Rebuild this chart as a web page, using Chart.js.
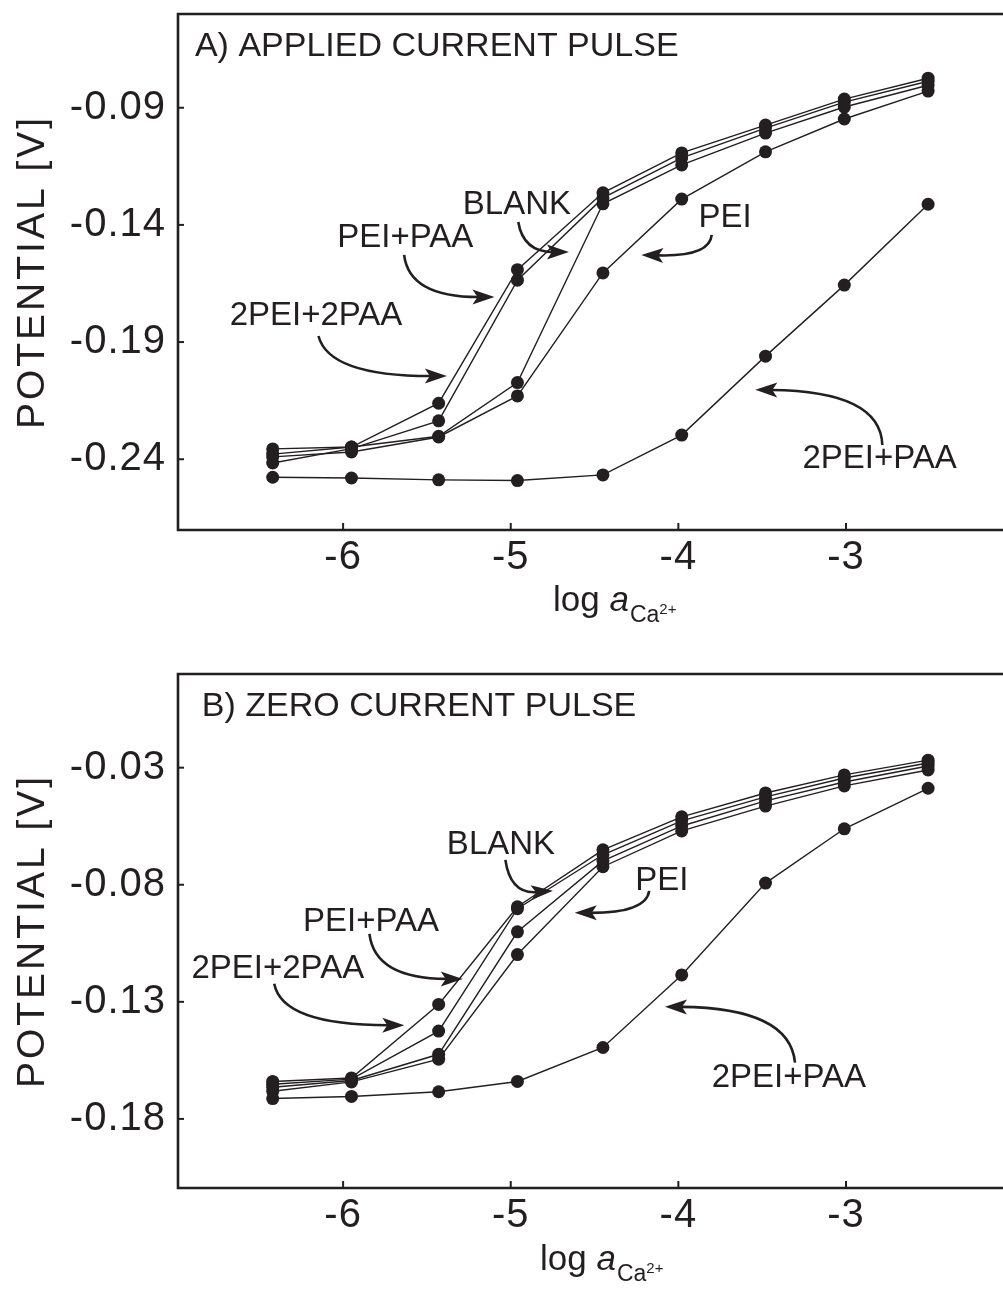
<!DOCTYPE html>
<html>
<head>
<meta charset="utf-8">
<script src="https://cdn.jsdelivr.net/npm/chart.js@4"></script>
<style>
  html, body { margin: 0; padding: 0; background: #fff; overflow: hidden; }
  canvas { position: absolute; left: 0; }
  #chartA { top: 0; }
  #chartB { top: 645px; }
</style>
</head>
<body>
<canvas id="chartA" width="1003" height="645"></canvas>
<canvas id="chartB" width="1003" height="645"></canvas>
<script>
// x positions: log a(Ca2+)
const logA = [-6.42, -5.95, -5.43, -4.96, -4.45, -3.98, -3.48, -3.01, -2.51];
const xTicks = [-6, -5, -4, -3];
const yTicksA = [-0.24, -0.19, -0.14, -0.09];
const yTicksB = [-0.18, -0.13, -0.08, -0.03];
const seriesNames = ['2PEI+2PAA', 'PEI+PAA', 'BLANK', 'PEI', '2PEI+PAA'];

// A) applied current pulse, potential [V]
const applied2PEI2PAA = [-0.2378, -0.2348, -0.2161, -0.1591, -0.1263, -0.1093, -0.0974, -0.0863, -0.0774];
const appliedPEIPAA   = [-0.2416, -0.2355, -0.2236, -0.1636, -0.1285, -0.1114, -0.0987, -0.0876, -0.0787];
const appliedBlank    = [-0.2356, -0.2348, -0.2302, -0.2073, -0.1310, -0.1144, -0.1008, -0.0897, -0.0804];
const appliedPEI      = [-0.2390, -0.2369, -0.2305, -0.2130, -0.1605, -0.1290, -0.1088, -0.0948, -0.0829];
const applied2PEIPAA  = [-0.2477, -0.2480, -0.2488, -0.2491, -0.2467, -0.2297, -0.1960, -0.1657, -0.1312];

// B) zero current pulse, potential [V]
const zero2PEI2PAA = [-0.1640, -0.1625, -0.1311, -0.0894, -0.0651, -0.0510, -0.0408, -0.0331, -0.0268];
const zeroPEIPAA   = [-0.1652, -0.1630, -0.1425, -0.0902, -0.0672, -0.0527, -0.0425, -0.0344, -0.0280];
const zeroBlank    = [-0.1665, -0.1636, -0.1524, -0.1001, -0.0698, -0.0549, -0.0442, -0.0361, -0.0293];
const zeroPEI      = [-0.1682, -0.1642, -0.1545, -0.1098, -0.0723, -0.0570, -0.0464, -0.0378, -0.0310];
const zero2PEIPAA  = [-0.1713, -0.1704, -0.1684, -0.1640, -0.1495, -0.1185, -0.0793, -0.0561, -0.0388];

const ink = '#231f20';
const FONT = '"Liberation Sans", Arial, Helvetica, sans-serif';

// text labels and curved arrows, placed in data units
const decorA = {
  title: 'A) APPLIED CURRENT PULSE', titleAt: [-6.884, -0.0641],
  labels: [
    ['BLANK', -5.286, -0.1315], ['PEI+PAA', -6.035, -0.1455], ['PEI', -3.880, -0.1372],
    ['2PEI+2PAA', -6.677, -0.1790], ['2PEI+PAA', -3.260, -0.2400]
  ],
  arrows: [
    [[-4.955, -0.1388], [-4.925, -0.1516], [-4.653, -0.1516]],
    [[-5.636, -0.1528], [-5.606, -0.1708], [-5.097, -0.1708]],
    [[-3.801, -0.1443], [-3.813, -0.1537], [-4.221, -0.1528]],
    [[-6.147, -0.1874], [-6.085, -0.2045], [-5.381, -0.2045]],
    [[-2.783, -0.2339], [-2.795, -0.2109], [-3.541, -0.2104]]
  ],
  xTitleLeft: 553, xTitleBase: 81
};
const decorB = {
  title: 'B) ZERO CURRENT PULSE', titleAt: [-6.843, -0.0039],
  labels: [
    ['BLANK', -5.381, -0.0630], ['PEI', -4.257, -0.0782], ['PEI+PAA', -6.239, -0.0959],
    ['2PEI+2PAA', -6.905, -0.1159], ['2PEI+PAA', -3.801, -0.1624]
  ],
  arrows: [
    [[-5.032, -0.0694], [-5.002, -0.0841], [-4.748, -0.0826]],
    [[-4.174, -0.0826], [-4.192, -0.0920], [-4.618, -0.0920]],
    [[-5.843, -0.1010], [-5.810, -0.1202], [-5.286, -0.1202]],
    [[-6.411, -0.1223], [-6.363, -0.1400], [-5.635, -0.1400]],
    [[-3.304, -0.1560], [-3.334, -0.1326], [-4.080, -0.1321]]
  ],
  xTitleLeft: 540, xTitleBase: 82
};

function drawArrow(ctx, p0, c, p1) {
  const ang = Math.atan2(p1.y - c.y, p1.x - c.x);
  const len = 22, half = 7.5;
  const bx = p1.x - len * Math.cos(ang), by = p1.y - len * Math.sin(ang);
  ctx.beginPath();
  ctx.moveTo(p0.x, p0.y);
  ctx.quadraticCurveTo(c.x, c.y, bx + 6 * Math.cos(ang), by + 6 * Math.sin(ang));
  ctx.stroke();
  ctx.beginPath();
  ctx.moveTo(p1.x, p1.y);
  ctx.lineTo(bx - half * Math.sin(ang), by + half * Math.cos(ang));
  ctx.lineTo(bx + 5 * Math.cos(ang), by + 5 * Math.sin(ang));
  ctx.lineTo(bx + half * Math.sin(ang), by - half * Math.cos(ang));
  ctx.closePath();
  ctx.fill();
}

const decorPlugin = {
  id: 'decor',
  beforeDraw(chart) {
    // slightly looser tracking for the tick labels, as in the original
    chart.ctx.letterSpacing = '1px';
  },
  afterDraw(chart, args, opts) {
    const { ctx, chartArea: a, scales: { x, y } } = chart;
    const px = v => x.getPixelForValue(v), py = v => y.getPixelForValue(v);
    ctx.save();
    ctx.letterSpacing = '0px';
    ctx.strokeStyle = ink; ctx.fillStyle = ink;

    // frame: top, left, bottom (right side is cut off)
    ctx.lineWidth = 2.6;
    ctx.beginPath();
    ctx.moveTo(chart.width + 5, a.top); ctx.lineTo(a.left, a.top);
    ctx.lineTo(a.left, a.bottom); ctx.lineTo(chart.width + 5, a.bottom);
    ctx.stroke();

    // inward tick marks
    ctx.lineWidth = 2;
    x.ticks.forEach(t => {
      const X = px(t.value);
      ctx.beginPath(); ctx.moveTo(X, a.bottom); ctx.lineTo(X, a.bottom - 7); ctx.stroke();
    });
    y.ticks.forEach(t => {
      const Y = py(t.value);
      ctx.beginPath(); ctx.moveTo(a.left, Y); ctx.lineTo(a.left + 6, Y); ctx.stroke();
    });

    // y axis title
    ctx.save();
    ctx.translate(33, (a.top + a.bottom) / 2);
    ctx.rotate(-Math.PI / 2);
    ctx.font = '39px ' + FONT;
    ctx.textAlign = 'center'; ctx.textBaseline = 'middle';
    ctx.letterSpacing = '3px';
    ctx.fillText('POTENTIAL [V]', 0, 0);
    ctx.restore();

    // x axis title: log a_Ca2+
    let tx = opts.xTitleLeft;
    const base = a.bottom + opts.xTitleBase;
    ctx.textAlign = 'left'; ctx.textBaseline = 'alphabetic';
    ctx.font = '35px ' + FONT;
    ctx.fillText('log ', tx, base); tx += ctx.measureText('log ').width;
    ctx.font = 'italic 35px ' + FONT;
    ctx.fillText('a', tx, base); tx += ctx.measureText('a').width + 1;
    ctx.font = '23px ' + FONT;
    ctx.fillText('Ca', tx, base + 11); tx += ctx.measureText('Ca').width;
    ctx.font = '15px ' + FONT;
    ctx.fillText('2+', tx, base + 3);

    // panel title and curve labels
    ctx.textBaseline = 'middle';
    ctx.font = '34px ' + FONT;
    ctx.fillText(opts.title, px(opts.titleAt[0]), py(opts.titleAt[1]));
    ctx.font = '33px ' + FONT;
    opts.labels.forEach(([txt, lx, ly]) => ctx.fillText(txt, px(lx), py(ly)));

    // arrows
    ctx.lineWidth = 2.6;
    opts.arrows.forEach(([s, c, e]) => {
      drawArrow(ctx, { x: px(s[0]), y: py(s[1]) }, { x: px(c[0]), y: py(c[1]) }, { x: px(e[0]), y: py(e[1]) });
    });
    ctx.restore();
  }
};

function makeChart(id, seriesList, yMin, yMax, yTicks, padTop, xAxisHeight, decor) {
  new Chart(document.getElementById(id), {
    type: 'line',
    data: {
      datasets: seriesList.map((vals, i) => ({
        label: seriesNames[i],
        data: logA.map((v, j) => ({ x: v, y: vals[j] })),
        borderColor: ink,
        borderWidth: 1.4,
        pointRadius: 6.5,
        pointBackgroundColor: ink,
        pointBorderWidth: 0,
        tension: 0,
        clip: false
      }))
    },
    options: {
      responsive: false,
      animation: false,
      layout: { padding: { top: padTop, left: 0, right: 0, bottom: 0 } },
      plugins: { legend: { display: false }, tooltip: { enabled: false }, decor },
      scales: {
        x: {
          type: 'linear', min: -6.985, max: -2.102,
          afterFit: s => { s.height = xAxisHeight; s.paddingLeft = 0; s.paddingRight = 0; },
          afterBuildTicks: s => { s.ticks = xTicks.map(v => ({ value: v })); },
          grid: { display: false, drawTicks: false },
          border: { display: false },
          ticks: { color: ink, padding: 4, font: { family: FONT, size: 40 }, callback: v => String(v), maxRotation: 0 }
        },
        y: {
          type: 'linear', min: yMin, max: yMax,
          afterFit: s => { s.width = 178; s.paddingTop = 0; s.paddingBottom = 0; },
          afterBuildTicks: s => { s.ticks = yTicks.map(v => ({ value: v })); },
          grid: { display: false, drawTicks: false },
          border: { display: false },
          ticks: { color: ink, padding: 12, font: { family: FONT, size: 40 }, callback: v => v.toFixed(2) }
        }
      }
    },
    plugins: [decorPlugin]
  });
}

makeChart('chartA', [applied2PEI2PAA, appliedPEIPAA, appliedBlank, appliedPEI, applied2PEIPAA],
  -0.2702, -0.05, yTicksA, 14, 115, decorA);
makeChart('chartB', [zero2PEI2PAA, zeroPEIPAA, zeroBlank, zeroPEI, zero2PEIPAA],
  -0.2095, 0.01, yTicksB, 29, 102, decorB);
</script>
</body>
</html>
